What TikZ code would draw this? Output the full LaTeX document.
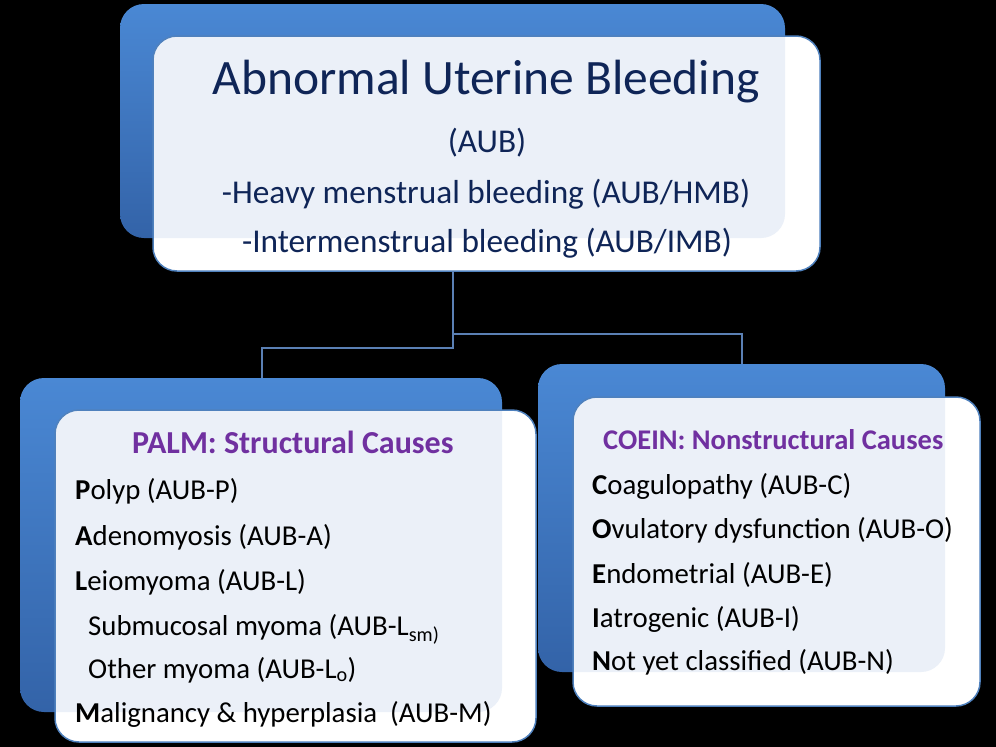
\documentclass[tikz,border=0pt]{standalone}
\usepackage{fontspec}
\setmainfont{Carlito}
\usetikzlibrary{shadings}
\definecolor{backtop}{HTML}{4A88D4}
\definecolor{backbot}{HTML}{3363A8}
\definecolor{tint}{HTML}{EBF0F8}
\definecolor{frameblue}{HTML}{4F81BD}
\definecolor{linkblue}{HTML}{5B80B4}
\definecolor{titlenavy}{HTML}{0F2557}
\definecolor{headpurple}{HTML}{7030A0}
\tikzset{
  backbox/.style={rounded corners=24pt, top color=backtop, bottom color=backbot},
  frontbox/.style={rounded corners=24pt, fill=white},
  frontframe/.style={rounded corners=24pt, draw=frameblue, line width=1.5pt},
  tintbox/.style={rounded corners=24pt, fill=tint},
  link/.style={draw=linkblue, line width=1.8pt},
  titletxt/.style={anchor=base, text=titlenavy, font=\fontsize{49.5}{54}\selectfont, inner sep=0pt},
  subtxt/.style={anchor=base, text=titlenavy, font=\fontsize{33.3}{37}\selectfont, inner sep=0pt},
  headtxt/.style={anchor=base west, text=headpurple, font=\bfseries\fontsize{32}{36}\selectfont, inner sep=0pt},
  listtxt/.style={anchor=base west, text=black, font=\fontsize{28.8}{32}\selectfont, inner sep=0pt},
}
\begin{document}
\begin{tikzpicture}[x=1pt,y=-1pt]
\fill[black] (0,0) rectangle (996,747);
\useasboundingbox (0,0) rectangle (996,747);
% top box
\path[backbox] (120,4) rectangle (785,238);
\path[frontbox] (153,36) rectangle (820,271);
\begin{scope}
\clip[rounded corners=24pt] (153,36) rectangle (820,271);
\path[tintbox] (120,4) rectangle (785,238);
\end{scope}
\path[frontframe] (153,36) rectangle (820,271);
\coordinate (topbox) at (453,271);
% left box
\path[backbox] (20,378) rectangle (502,712);
\path[frontbox] (55,410) rectangle (536,742);
\begin{scope}
\clip[rounded corners=24pt] (55,410) rectangle (536,742);
\path[tintbox] (20,378) rectangle (502,712);
\end{scope}
\path[frontframe] (55,410) rectangle (536,742);
\coordinate (leftbox) at (262,378);
% right box
\path[backbox] (538,364) rectangle (945,672);
\path[frontbox] (573,397) rectangle (980,706);
\begin{scope}
\clip[rounded corners=24pt] (573,397) rectangle (980,706);
\path[tintbox] (538,364) rectangle (945,672);
\end{scope}
\path[frontframe] (573,397) rectangle (980,706);
\coordinate (rightbox) at (742,364);
% connectors
\coordinate (mid) at (453,334);
\coordinate (midl) at (453,348);
\draw[link] (topbox) -- (midl) -| (leftbox);
\draw[link] (mid) -| (rightbox);
% texts
\node[titletxt] (t1) at (486,94) {Abnormal Uterine Bleeding};
\node[subtxt] (t2) at (487,152) {(AUB)};
\node[subtxt] (t3) at (486,203) {-Heavy menstrual bleeding (AUB/HMB)};
\node[subtxt] (t4) at (487,252) {-Intermenstrual bleeding (AUB/IMB)};
% left list
\node[headtxt] (lh) at (132,453) {PALM: Structural Causes};
\node[listtxt] (l1) at (75,499) {\textbf{P}olyp (AUB-P)};
\node[listtxt] (l2) at (75,545) {\textbf{A}denomyosis (AUB-A)};
\node[listtxt] (l3) at (75,590) {\textbf{L}eiomyoma (AUB-L)};
\node[listtxt] (l4) at (88,635) {Submucosal myoma (AUB-L\textsubscript{sm)}};
\node[listtxt] (l5) at (88,678) {Other myoma (AUB-L\textsubscript{o})};
\node[listtxt] (l6) at (75,722) {\textbf{M}alignancy \& hyperplasia\ \ (AUB-M)};
% right list
\node[headtxt, font=\bfseries\fontsize{28.5}{32}\selectfont] (rh) at (603,449) {COEIN: Nonstructural Causes};
\node[listtxt] (r1) at (592,494) {\textbf{C}oagulopathy (AUB-C)};
\node[listtxt] (r2) at (592,538) {\textbf{O}vulatory dysfunction (AUB-O)};
\node[listtxt] (r3) at (592,583) {\textbf{E}ndometrial (AUB-E)};
\node[listtxt] (r4) at (592,627) {\textbf{I}atrogenic (AUB-I)};
\node[listtxt] (r5) at (592,670) {\textbf{N}ot yet classified (AUB-N)};
\end{tikzpicture}
\end{document}
